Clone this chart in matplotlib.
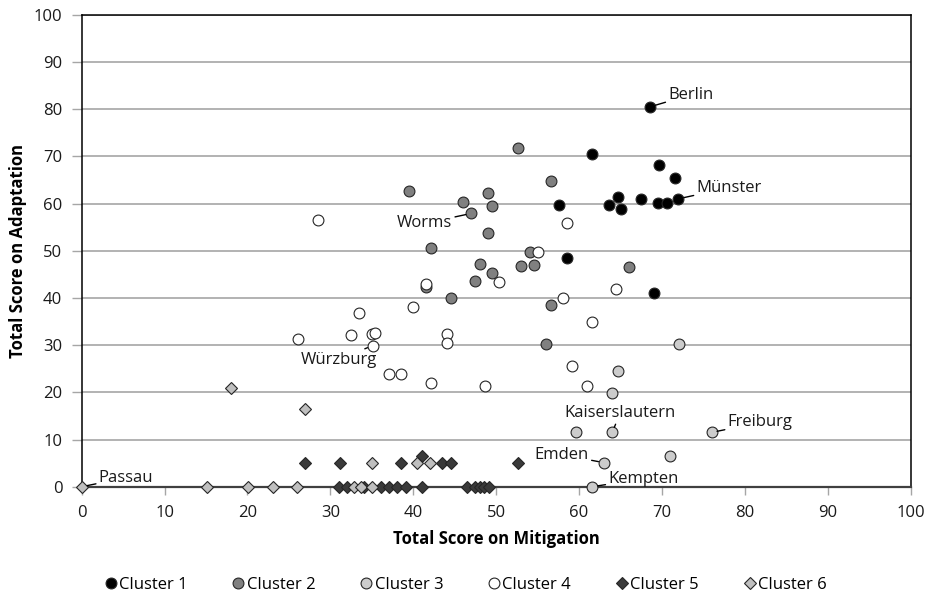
import matplotlib
matplotlib.use("Agg")
import matplotlib.pyplot as plt

plt.rcParams['font.family'] = ['Open Sans', 'DejaVu Sans']

# ---- data ----
c1_x = [68.6, 61.6, 69.6, 71.6, 57.6, 63.6, 64.7, 65.1, 67.5, 69.5, 70.6, 72.0, 58.5, 69.1]
c1_y = [80.5, 70.5, 68.2, 65.5, 59.7, 59.6, 61.4, 58.9, 61.0, 60.2, 60.2, 61.0, 48.4, 41.1]

c2_x = [39.5, 46.0, 49.0, 49.5, 47.0, 49.0, 52.6, 56.6, 42.1, 48.0, 49.5, 47.5, 41.6, 44.5,
        54.1, 53.0, 54.6, 66.0, 56.6, 56.0]
c2_y = [62.6, 60.4, 62.2, 59.5, 57.9, 53.7, 71.7, 64.8, 50.6, 47.1, 45.2, 43.6, 42.3, 40.0,
        49.7, 46.8, 47.0, 46.6, 38.4, 30.2]

c3_x = [72.1, 64.7, 64.0, 59.6, 64.0, 76.0, 63.0, 71.0, 61.6]
c3_y = [30.2, 24.6, 19.9, 11.5, 11.5, 11.5, 5.1, 6.5, 0.0]

c4_x = [28.5, 58.5, 41.6, 50.4, 40.0, 33.5, 26.1, 32.5, 35.0, 35.4, 35.1, 44.1, 44.1, 37.1,
        38.5, 42.1, 48.6, 55.0, 64.5, 58.1, 61.6, 59.1, 61.0]
c4_y = [56.6, 55.9, 42.9, 43.4, 38.0, 36.8, 31.3, 32.2, 32.4, 32.5, 29.9, 32.3, 30.4, 23.8,
        23.8, 22.0, 21.4, 49.8, 41.8, 40.0, 34.8, 25.6, 21.3]

c5_x = [27.0, 31.2, 38.5, 43.5, 44.5, 52.6, 41.1,
        31.0, 32.0, 34.0, 36.1, 37.1, 38.1, 39.1, 41.1, 46.5, 47.4, 48.0, 48.5, 49.1]
c5_y = [5.0, 5.0, 5.0, 5.0, 5.0, 5.0, 6.5,
        0, 0, 0, 0, 0, 0, 0, 0, 0, 0, 0, 0, 0]

c6_x = [18.0, 27.0, 35.0, 40.5, 42.0, 0.0, 15.1, 20.1, 23.1, 26.0, 32.9, 33.7, 35.0]
c6_y = [21.0, 16.5, 5.0, 5.0, 5.0, 0, 0, 0, 0, 0, 0, 0, 0]

labels = ["Berlin", "Münster", "Worms", "Würzburg", "Kaiserslautern",
          "Freiburg", "Emden", "Kempten", "Passau"]
label_x = [68.6, 72.0, 47.0, 35.1, 64.0, 76.0, 63.0, 61.6, 0.0]
label_y = [80.5, 61.0, 57.9, 29.9, 11.5, 11.5, 5.1, 0.0, 0.0]
label_off = [(18, 12, 'left'), (18, 11, 'left'), (-19, -10, 'right'), (-34, -14, 'center'),
             (8, 19, 'center'), (16, 10, 'left'), (-15, 8, 'right'), (16, 8, 'left'),
             (17, 9, 'left')]

series = [
    ("Cluster 1", c1_x, c1_y, 'o', '#000000'),
    ("Cluster 2", c2_x, c2_y, 'o', '#808080'),
    ("Cluster 3", c3_x, c3_y, 'o', '#cccccc'),
    ("Cluster 4", c4_x, c4_y, 'o', '#ffffff'),
    ("Cluster 5", c5_x, c5_y, 'D', '#3a3a3a'),
    ("Cluster 6", c6_x, c6_y, 'D', '#bfbfbf'),
]

fig = plt.figure(figsize=(9.35, 6), dpi=100)
ax = fig.add_axes([0.0874, 0.1888, 0.8864, 0.7867])

for name, xs, ys, m, col in series:
    ms = 7.8 if m == 'o' else 6.6
    ax.plot(xs, ys, linestyle='none', marker=m, markersize=ms, markerfacecolor=col,
            markeredgecolor='#262626', markeredgewidth=0.8, label=name,
            clip_on=False, zorder=5)

ax.set_xlim(0, 100)
ax.set_ylim(0, 100)
ax.set_xticks(range(0, 101, 10))
ax.set_yticks(range(0, 101, 10))
ax.yaxis.grid(True, color='#a6a6a6', linewidth=1.2)
ax.set_axisbelow(True)
for s in ['top', 'right', 'left']:
    ax.spines[s].set_color('black')
    ax.spines[s].set_linewidth(1.1)
ax.spines['bottom'].set_color('#404040')
ax.spines['bottom'].set_linewidth(1.6)
ax.tick_params(axis='y', direction='out', length=7, width=1, color='#a6a6a6',
               labelsize=12, pad=7, labelcolor='#1a1a1a')
ax.tick_params(axis='x', direction='out', length=6, width=1, color='#a6a6a6',
               labelsize=12, pad=7, labelcolor='#1a1a1a')

ax.set_xlabel("Total Score on Mitigation", fontsize=12, fontweight='bold', labelpad=7)
ax.set_ylabel("Total Score on Adaptation", fontsize=12, fontweight='bold', labelpad=5)

for name, x, y, (dx, dy, ha) in zip(labels, label_x, label_y, label_off):
    ax.annotate(name, xy=(x, y), xytext=(dx, dy), textcoords='offset pixels',
                ha=ha, va='center', fontsize=12, color='#1a1a1a',
                arrowprops=dict(arrowstyle='-', color='black', lw=1,
                                shrinkA=0, shrinkB=4),
                zorder=6, annotation_clip=False)

leg = fig.legend(loc='center', bbox_to_anchor=(465 / 935, 1 - 585 / 600), ncol=6,
                 frameon=False, fontsize=12, handlelength=0.9, handletextpad=0.05,
                 columnspacing=2.6, borderaxespad=0)

fig.savefig("out.png", dpi=100)
